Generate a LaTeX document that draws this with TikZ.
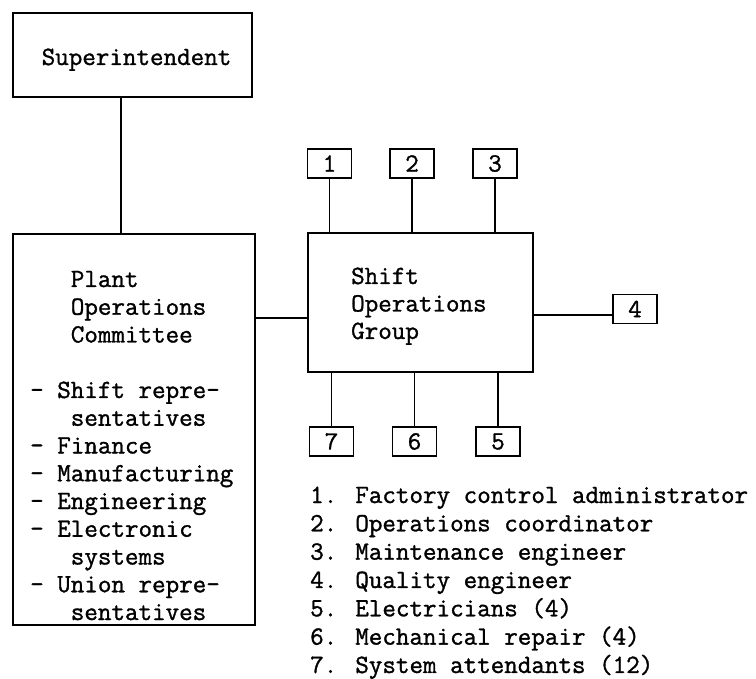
\documentclass[tikz,border=0pt]{standalone}
\usepackage{fontspec}
\newfontfamily\typew{Latin Modern Mono}[FakeBold=1.2]
\tikzset{
  box/.style={draw, line width=1.8pt, inner sep=0pt, rectangle},
  numbox/.style={box, minimum width=44pt, minimum height=29pt, font=\typew\fontsize{26.3}{30}\selectfont},
  conn/.style={line width=1.3pt},
  txt/.style={anchor=base west, inner sep=0pt, font=\typew\fontsize{26.3}{30}\selectfont},
}
\begin{document}
\begin{tikzpicture}[x=1pt,y=-1pt]
\useasboundingbox[fill=white] (0,0) rectangle (756,679);
% main boxes
\node[box, minimum width=239pt, minimum height=84pt] (sup) at (132.5,55) {};
\node[box, minimum width=242pt, minimum height=391pt] (plant) at (134,429.5) {};
\node[box, minimum width=225pt, minimum height=139pt] (sog) at (420.5,302.5) {};
% numbered boxes
\node[numbox] (b1) at (329.5,163.5) {1};
\node[numbox] (b2) at (412,163.5) {2};
\node[numbox] (b3) at (495,163.5) {3};
\node[numbox] (b4) at (635,309) {4};
\node[numbox] (b7) at (331.5,441.5) {7};
\node[numbox] (b6) at (414.5,441.5) {6};
\node[numbox] (b5) at (498,441.5) {5};
% texts
\node[txt] (tsup) at (41.5,65) {Superintendent};
\foreach \t [count=\i from 0] in {{\hphantom{xxx}Plant},{\hphantom{xxx}Operations},{\hphantom{xxx}Committee},{},{- Shift repre-},{\hphantom{xxx}sentatives},{- Finance},{- Manufacturing},{- Engineering},{- Electronic},{\hphantom{xxx}systems},{- Union repre-},{\hphantom{xxx}sentatives}}
  \node[txt] (tp\i) at (30,287+27.75*\i) {\t};
\foreach \t [count=\i from 0] in {Shift,Operations,Group}
  \node[txt] (ts\i) at (351,284+27.5*\i) {\t};
\foreach \t [count=\i from 0] in {{1. Factory control administrator},{2. Operations coordinator},{3. Maintenance engineer},{4. Quality engineer},{5. Electricians (4)},{6. Mechanical repair (4)},{7. System attendants (12)}}
  \node[txt] (tl\i) at (310,503+28.33*\i) {\t};
% connectors
\draw[conn] ([xshift=-11.5pt]sup.south) -- ([xshift=-11.5pt]sup.south |- plant.north);
\draw[conn] ([yshift=-15.5pt]sog.west) -- ([yshift=-15.5pt]sog.west -| plant.east);
\foreach \b in {b1,b2,b3} \draw[conn] (\b.south) -- (\b.south |- sog.north);
\foreach \b in {b7,b6,b5} \draw[conn] (\b.north) -- (\b.north |- sog.south);
\draw[conn] ([yshift=-6pt]b4.west) -- ([yshift=-6pt]b4.west -| sog.east);
\end{tikzpicture}
\end{document}
